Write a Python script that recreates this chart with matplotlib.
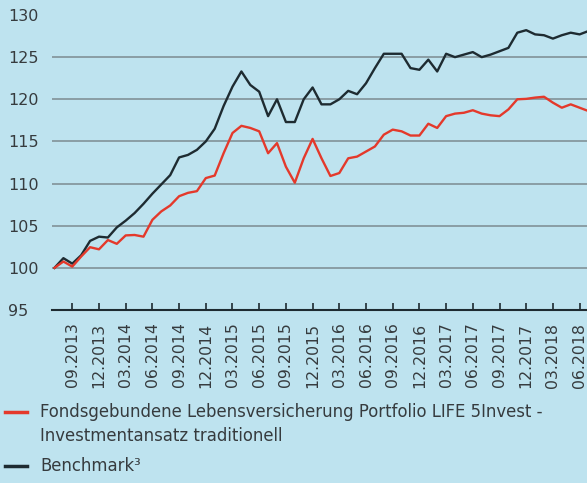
import matplotlib
matplotlib.use('Agg')
import matplotlib.pyplot as plt
from matplotlib.lines import Line2D
import pandas as pd

# monthly values, 07.2013 - 07.2018, indexed to 100
benchmark = [100.0, 101.15, 100.5, 101.5, 103.2, 103.7, 103.6, 104.8, 105.6, 106.5,
             107.6, 108.8, 109.9, 111.0, 113.1, 113.4, 114.0, 115.0, 116.5, 119.2,
             121.5, 123.3, 121.7, 120.9, 118.0, 120.0, 117.3, 117.3, 120.0, 121.4,
             119.4, 119.4, 120.0, 121.0, 120.6, 121.9, 123.7, 125.4, 125.4, 125.4,
             123.7, 123.5, 124.7, 123.3, 125.4, 125.0, 125.3, 125.6, 125.0, 125.3,
             125.7, 126.1, 127.9, 128.2, 127.7, 127.6, 127.2, 127.6, 127.9, 127.7,
             128.1]
portfolio = [100.0, 100.75, 100.15, 101.35, 102.45, 102.2, 103.3, 102.85, 103.85, 103.9,
             103.7, 105.7, 106.7, 107.4, 108.5, 108.9, 109.1, 110.65, 110.95, 113.6,
             116.0, 116.85, 116.6, 116.2, 113.6, 114.8, 112.0, 110.1, 113.0, 115.3,
             113.0, 110.9, 111.25, 113.0, 113.2, 113.8, 114.4, 115.8, 116.4, 116.2,
             115.7, 115.7, 117.1, 116.6, 118.0, 118.3, 118.4, 118.7, 118.3, 118.1,
             118.0, 118.8, 120.0, 120.05, 120.2, 120.3, 119.6, 119.0, 119.4, 119.0,
             118.6]
months = pd.date_range('2013-07-01', periods=len(benchmark), freq='MS')
yticks = [95, 100, 105, 110, 115, 120, 125, 130]

label_portfolio = "Fondsgebundene Lebensversicherung Portfolio LIFE 5Invest -\nInvestmentansatz traditionell"
label_bench = "Benchmark\u00b3"

bg = '#bee3ef'
red = '#e4392b'
dark = '#1e2b31'
textc = '#363b3e'

fig = plt.figure(figsize=(5.87, 4.83), dpi=100, facecolor=bg)
ax = fig.add_axes([52 / 587, (483 - 310) / 483, (587 - 52) / 587, 295 / 483])
ax.set_facecolor(bg)

x = list(range(len(months)))
for yv in yticks[1:-1]:
    ax.axhline(yv, color='#86989f', lw=1.3, zorder=1)

ax.plot(x, benchmark, color=dark, lw=1.7, zorder=3)
ax.plot(x, portfolio, color=red, lw=1.7, zorder=3)

ax.set_xlim(-0.28, 59.83)
ax.set_ylim(95, 130)

for s in ['top', 'right', 'left']:
    ax.spines[s].set_visible(False)
ax.spines['bottom'].set_color(dark)
ax.spines['bottom'].set_linewidth(1.5)

qpos = [i for i, d in enumerate(months) if d.month in (3, 6, 9, 12)]
ax.set_xticks(qpos)
ax.set_xticklabels([months[i].strftime('%m.%Y') for i in qpos], rotation=90,
                   fontsize=11.3, color=textc)
ax.tick_params(axis='x', direction='in', length=5, width=1.2, color=dark, pad=9)

ax.set_yticks(yticks)
ax.set_yticklabels([str(v) for v in yticks], fontsize=11.5, color=textc)
ax.tick_params(axis='y', length=0, pad=44 * 72 / 100)
for lab in ax.get_yticklabels():
    lab.set_horizontalalignment('left')

# legend
fig.add_artist(Line2D([5 / 587, 27 / 587], [1 - 412 / 483] * 2, color=red, lw=2.5))
fig.add_artist(Line2D([5 / 587, 27 / 587], [1 - 466 / 483] * 2, color=dark, lw=2.5))
fig.text(40 / 587, 1 - 403 / 483, label_portfolio, fontsize=11.9, color=textc,
         va='top', ha='left', linespacing=1.4)
fig.text(40 / 587, 1 - 466 / 483, label_bench, fontsize=11.9, color=textc,
         va='center', ha='left')

fig.savefig('out.png', dpi=100, facecolor=bg)
